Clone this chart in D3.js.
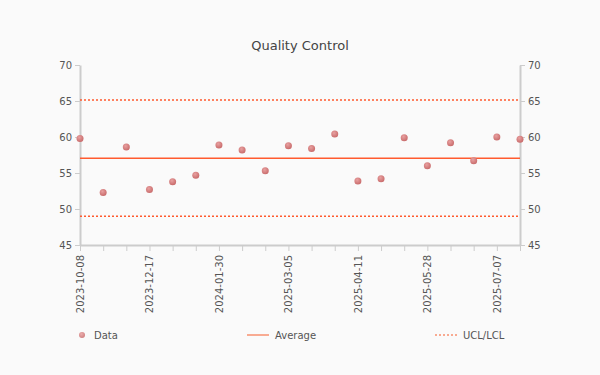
<html>

<head>
    <script src="https://d3js.org/d3.v7.min.js"></script>
    <style>
        body { margin: 0; background: #fafafa; }
        text { font-family: "DejaVu Sans", sans-serif; }
    </style>
</head>

<body>
    <svg id="svg" width="600" height="375"></svg>

    <script>
        // DATA
        const dates = ["2023-10-08", "2023-10-31", "2023-11-22", "2023-12-17", "2023-12-31",
            "2024-01-15", "2024-01-30", "2024-02-14", "2024-12-10", "2025-03-05",
            "2025-03-17", "2025-03-29", "2025-04-11", "2025-04-26", "2025-05-12",
            "2025-05-28", "2025-06-10", "2025-06-23", "2025-07-07", "2025-07-20"]
        const values = [59.8, 52.3, 58.6, 52.7, 53.8, 54.7, 58.9, 58.2, 55.3, 58.8,
            58.4, 60.4, 53.9, 54.2, 59.9, 56.0, 59.2, 56.7, 60.0, 59.7]
        const average = 57.05
        const ucl = 65.15
        const lcl = 49.0
        const yTicks = [45, 50, 55, 60, 65, 70]

        // VARIABLES
        const margin = { top: 65, right: 80, bottom: 130, left: 80 }
        const width = 600 - margin.left - margin.right
        const height = 375 - margin.top - margin.bottom
        const lineColor = "#ff5a2e"
        const axisColor = "#cccccc"

        const svg = d3.select("#svg")

        const defs = svg.append("defs")
        const grad = defs.append("radialGradient").attr("id", "dot")
            .attr("cx", "40%").attr("cy", "35%").attr("r", "65%")
        grad.append("stop").attr("offset", "0%").attr("stop-color", "#e8a0a0")
        grad.append("stop").attr("offset", "100%").attr("stop-color", "#c96c6c")

        svg.append("text")
            .attr("x", 300).attr("y", 50)
            .attr("text-anchor", "middle")
            .style("font-size", "13px")
            .attr("fill", "#444")
            .text("Quality Control")

        const g = svg.append("g").attr("transform", `translate(${margin.left},${margin.top})`)

        const x = d3.scalePoint().domain(dates).range([0, width])
        const y = d3.scaleLinear().domain([45, 70]).range([height, 0])

        // axes
        const styleAxis = sel => {
            sel.select(".domain").attr("stroke", axisColor).attr("stroke-width", 2)
            sel.selectAll(".tick line").attr("stroke", axisColor).attr("stroke-width", 1)
            sel.selectAll(".tick text").attr("fill", "#555").style("font-size", "10px")
                .style("font-family", "DejaVu Sans, sans-serif")
        }

        g.append("g")
            .call(d3.axisLeft(y).tickValues(yTicks).tickSize(5).tickSizeOuter(0).tickPadding(3))
            .call(styleAxis)

        g.append("g")
            .attr("transform", `translate(${width},0)`)
            .call(d3.axisRight(y).tickValues(yTicks).tickSize(5).tickSizeOuter(0).tickPadding(3))
            .call(styleAxis)

        g.append("g")
            .attr("transform", `translate(0,${height})`)
            .call(d3.axisBottom(x).tickSize(6).tickSizeOuter(0)
                .tickFormat((d, i) => i % 3 === 0 ? d : ""))
            .call(styleAxis)
            .selectAll(".tick text")
            .attr("transform", "rotate(-90)")
            .attr("text-anchor", "end")
            .attr("x", -10)
            .attr("y", 0)
            .attr("dy", "0.35em")

        // control lines
        const hline = (v, dash) => g.append("line")
            .attr("x1", 0).attr("x2", width)
            .attr("y1", y(v)).attr("y2", y(v))
            .attr("stroke", lineColor)
            .attr("stroke-width", 1.5)
            .attr("stroke-dasharray", dash)

        hline(ucl, "2,2")
        hline(lcl, "2,2")
        hline(average, null)

        // points
        g.selectAll("circle.pt")
            .data(values)
            .enter().append("circle")
            .attr("class", "pt")
            .attr("cx", (d, i) => x(dates[i]))
            .attr("cy", d => y(d))
            .attr("r", 3.5)
            .attr("fill", "url(#dot)")

        // legend
        const leg = svg.append("g").attr("transform", "translate(0,335)")
        leg.append("circle").attr("cx", 82).attr("cy", 0).attr("r", 3)
            .attr("fill", "url(#dot)").attr("opacity", 0.85)
        leg.append("line").attr("x1", 247).attr("x2", 269).attr("y1", 0).attr("y2", 0)
            .attr("stroke", "#f7906f").attr("stroke-width", 1.5)
        leg.append("line").attr("x1", 435).attr("x2", 457).attr("y1", 0).attr("y2", 0)
            .attr("stroke", "#f7906f").attr("stroke-width", 1.5).attr("stroke-dasharray", "2,2")

        const legText = [["Data", 94], ["Average", 275], ["UCL/LCL", 463]]
        leg.selectAll("text.lt")
            .data(legText)
            .enter().append("text")
            .attr("class", "lt")
            .attr("x", d => d[1])
            .attr("y", 0)
            .attr("dy", "0.35em")
            .attr("fill", "#555")
            .style("font-size", "10px")
            .text(d => d[0])
    </script>
</body>

</html>
